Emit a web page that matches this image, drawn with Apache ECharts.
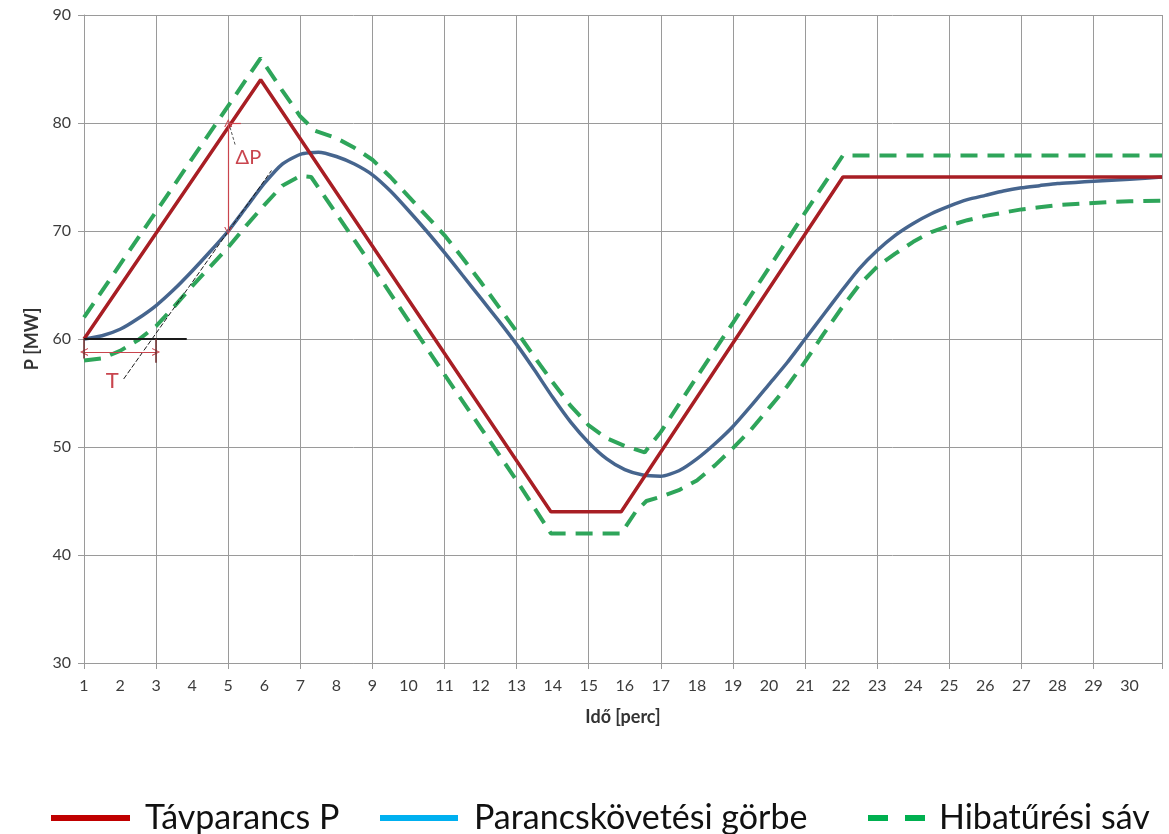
<!DOCTYPE html>
<html><head><meta charset="utf-8">
<script src="https://cdn.jsdelivr.net/npm/echarts@6/dist/echarts.min.js"></script>
<style>html,body{margin:0;padding:0;background:#fff}#c{width:1169px;height:834px}</style>
</head><body><div id="c"></div>
<script>
// ---- data ----
const seriesNames = ['Távparancs P', 'Parancskövetési görbe', 'Hibatűrési sáv'];
const commandX = [1, 5.9, 13.95, 15.9, 22.05, 30.9];
const commandY = [60, 84, 44, 44, 75, 75];
const responseX = [1,1.5,2,2.5,3,3.5,4,4.5,5,5.5,6,6.5,7,7.5,8,8.5,9,9.5,10,10.5,11,11.5,12,12.5,13,13.5,14,14.5,15,15.5,16,16.5,17,17.5,18,18.5,19,19.5,20,20.5,21,21.5,22,22.5,23,23.5,24,24.5,25,25.5,26,26.5,27,27.5,28,28.5,29,29.5,30,30.9];
const responseY = [60.0,60.3,60.9,61.9,63.1,64.6,66.3,68.1,70.0,72.2,74.4,76.2,77.1,77.3,76.9,76.2,75.2,73.7,71.9,70.0,68.0,65.9,63.8,61.7,59.5,57.1,54.6,52.3,50.4,48.9,47.9,47.4,47.3,47.8,48.9,50.3,51.9,53.8,55.8,57.8,60.0,62.2,64.4,66.5,68.2,69.6,70.7,71.6,72.3,72.9,73.3,73.7,74.0,74.2,74.4,74.5,74.6,74.7,74.8,75.0];
const upperX = [1,5.9,6.5,7,7.4,8,8.5,9,9.5,10,10.5,11,11.5,12,12.5,13,13.5,14,14.5,15,15.5,16,16.55,17,18,19,20,21,22.05,30.9];
const upperY = [62,86,83.0,80.6,79.3,78.6,77.7,76.6,75.0,73.2,71.4,69.6,67.5,65.3,63.0,60.7,58.3,56.0,53.8,52.0,50.8,50.1,49.5,51.4,56.5,61.5,66.6,71.7,77,77];
const lowerX = [1,1.5,2,2.5,3,3.5,4,4.5,5,5.5,6,6.5,7,7.3,8,9,10,11,12,13,13.95,15.9,16.3,16.6,17,17.5,18,18.5,19,19.5,20,20.5,21,21.5,22,22.5,23,23.5,24,24.5,25,25.5,26,26.5,27,27.5,28,28.5,29,29.5,30,30.9];
const lowerY = [58,58.2,58.9,59.9,61.2,63.0,64.9,66.7,68.5,70.5,72.4,74.2,75.1,75.0,71.6,66.7,61.7,56.7,51.8,46.9,42,42,44.0,45.0,45.4,46.0,46.9,48.3,49.9,51.6,53.6,55.6,57.9,60.4,62.8,65.0,66.7,67.9,69.0,69.9,70.5,71.0,71.4,71.7,72.0,72.2,72.4,72.5,72.6,72.7,72.75,72.8];
const xMin = 1, xMax = 30.9, yMin = 30, yMax = 90;
// annotation anchors (data units)
const baseLine = [[1,60],[3.85,60]];
const tangentLine = [[2.1,56.3],[6.2,75.6]];
const deltaPArrow = [[5,80],[5,70]];
const deltaPTick = [[5,80],[5.35,80]];
const deltaPLeader = [[5.05,79.6],[5.2,77.9]];
const tArrow = [[1,58.8],[3,58.8]];
const tTicks = [[[1,60],[1,58.2]],[[3,60],[3,57.8]]];
const deltaPLabel = [5.56, 76.8];
const tLabel = [1.78, 56.1];

const zip = (xs, ys) => xs.map((x, i) => [x, ys[i]]);
const chev = 'path://M0,10 L5,0 L10,10 L8.6,10 L5,2.8 L1.4,10 Z';
const annRed = '#C9454E';
function seg(p, color, width, type, arrows) {
  return [
    {coord: p[0], symbol: arrows ? chev : 'none', symbolSize: [8, 8], lineStyle: {color, width, type}},
    {coord: p[1], symbol: arrows ? chev : 'none', symbolSize: [8, 8]}
  ];
}

const chart = echarts.init(document.getElementById('c'));
const FONT = 'Lato, "Open Sans", sans-serif';
const gridColor = '#9a9a9a';
const hidden = {opacity: 0, color: 'rgba(0,0,0,0)', borderWidth: 0};
chart.setOption({
  animation: false,
  backgroundColor: '#fff',
  grid: {left: 84, right: 7, top: 15, bottom: 171},
  xAxis: [
    {type: 'value', min: xMin, max: xMax, interval: 1, position: 'bottom',
     axisLine: {show: false}, axisTick: {show: false}, splitLine: {show: false},
     axisLabel: {fontSize: 16, color: '#3c3c3c', fontFamily: FONT, margin: 15, showMaxLabel: false},
     name: 'Idő [perc]', nameLocation: 'middle', nameGap: 45,
     nameTextStyle: {fontSize: 18, fontWeight: 'bold', color: '#333', fontFamily: FONT}},
    {type: 'value', min: xMin, max: xMax, interval: 2, position: 'bottom',
     axisLine: {show: true, lineStyle: {color: gridColor, width: 1}},
     axisTick: {show: true, length: 6, lineStyle: {color: gridColor}},
     axisLabel: {show: false},
     splitLine: {show: true, lineStyle: {color: gridColor, width: 1}}}
  ],
  yAxis: {type: 'value', min: yMin, max: yMax, interval: 10,
    axisLine: {show: true, lineStyle: {color: gridColor}},
    axisTick: {show: true, length: 6, lineStyle: {color: gridColor}},
    axisLabel: {fontSize: 16, color: '#3c3c3c', fontFamily: FONT, margin: 13},
    splitLine: {show: true, lineStyle: {color: gridColor, width: 1}},
    name: 'P [MW]', nameLocation: 'middle', nameGap: 40, nameRotate: 90,
    nameTextStyle: {fontSize: 18, fontWeight: 'bold', color: '#333', fontFamily: FONT}},
  legend: [
    {data: [{name: seriesNames[0], lineStyle: {color: '#C00000', width: 6}, itemStyle: hidden}],
     left: 48, top: 801, padding: 0, itemWidth: 79, itemHeight: 30, selectedMode: false,
     textStyle: {fontSize: 34, fontFamily: FONT, color: '#111', padding: [0, 0, 0, 10]}},
    {data: [{name: seriesNames[1], lineStyle: {color: '#00B0F0', width: 6}, itemStyle: hidden}],
     left: 377, top: 801, padding: 0, itemWidth: 78, itemHeight: 30, selectedMode: false,
     textStyle: {fontSize: 34, fontFamily: FONT, color: '#111', padding: [0, 0, 0, 11]}},
    {data: [{name: seriesNames[2], lineStyle: {color: '#00B050', width: 6, type: [20, 17]}, itemStyle: hidden}],
     left: 865, top: 801, padding: 0, itemWidth: 58, itemHeight: 30, selectedMode: false,
     textStyle: {fontSize: 34, fontFamily: FONT, color: '#111', padding: [0, 0, 0, 8]}}
  ],
  series: [
    {name: seriesNames[2], type: 'line', data: zip(upperX, upperY), symbol: 'none', z: 2,
     lineStyle: {color: '#2EA55A', width: 4, type: [17, 10]}, itemStyle: {color: '#2EA55A'}},
    {name: seriesNames[2], type: 'line', data: zip(lowerX, lowerY), symbol: 'none', z: 2,
     lineStyle: {color: '#2EA55A', width: 4, type: [17, 10]}, itemStyle: {color: '#2EA55A'}},
    {name: seriesNames[1], type: 'line', data: zip(responseX, responseY), symbol: 'none', smooth: 0.2, z: 3,
     lineStyle: {color: '#46658E', width: 3.5}, itemStyle: {color: '#46658E'}},
    {name: seriesNames[0], type: 'line', data: zip(commandX, commandY), symbol: 'none', z: 4,
     lineStyle: {color: '#A81E24', width: 3.5}, itemStyle: {color: '#A81E24'},
     markLine: {silent: true, animation: false, label: {show: false},
       data: [
         seg(baseLine, '#1a1a1a', 2, 'solid', false),
         seg(tangentLine, '#1a1a1a', 1, [5, 2], false),
         seg(deltaPArrow, annRed, 1.2, 'solid', true),
         seg(deltaPTick, annRed, 1.2, 'solid', false),
         seg(deltaPLeader, '#555', 1, [3, 2], false),
         seg(tArrow, annRed, 1.2, 'solid', true),
         seg(tTicks[0], '#6b2a2a', 1.5, 'solid', false),
         seg(tTicks[1], '#6b2a2a', 1.5, 'solid', false)
       ]},
     markPoint: {silent: true, symbol: 'circle', symbolSize: 1, itemStyle: {color: 'rgba(0,0,0,0)'},
       label: {show: true, position: 'inside', formatter: '{b}', color: annRed, fontFamily: FONT},
       data: [
         {name: 'ΔP', coord: deltaPLabel, label: {fontSize: 20}},
         {name: 'T', coord: tLabel, label: {fontSize: 22}}
       ]}}
  ]
});
</script>
</body></html>
